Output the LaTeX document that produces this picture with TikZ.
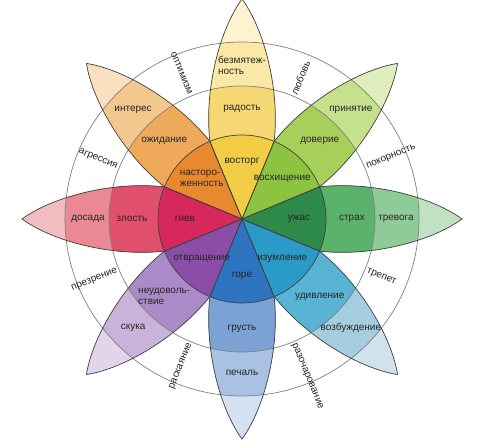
\documentclass[tikz,border=0pt]{standalone}
\usepackage{fontspec}
\setmainfont{Liberation Sans}
\usepackage{xcolor}

% petal colours: A = tip, B = outer band, C = middle band, D = inner sector
\definecolor{yelA}{HTML}{FDF3CF}\definecolor{yelB}{HTML}{F9E8A6}
\definecolor{yelC}{HTML}{F5D872}\definecolor{yelD}{HTML}{F1CC45}
\definecolor{oraA}{HTML}{F9E0C0}\definecolor{oraB}{HTML}{F3C88F}
\definecolor{oraC}{HTML}{EEAA5A}\definecolor{oraD}{HTML}{E8892F}
\definecolor{redA}{HTML}{F3BCC0}\definecolor{redB}{HTML}{EA8893}
\definecolor{redC}{HTML}{E0506D}\definecolor{redD}{HTML}{D6285C}
\definecolor{lgrA}{HTML}{E0EEBD}\definecolor{lgrB}{HTML}{C6E18D}
\definecolor{lgrC}{HTML}{A6D05A}\definecolor{lgrD}{HTML}{8CC43F}
\definecolor{grnA}{HTML}{BFE2C3}\definecolor{grnB}{HTML}{8FCB96}
\definecolor{grnC}{HTML}{5BB26C}\definecolor{grnD}{HTML}{2E8A4A}
\definecolor{tealA}{HTML}{D0E2EC}\definecolor{tealB}{HTML}{A5CDE0}
\definecolor{tealC}{HTML}{58B3D4}\definecolor{tealD}{HTML}{2A9AC8}
\definecolor{bluA}{HTML}{D4E1F1}\definecolor{bluB}{HTML}{A9C1E3}
\definecolor{bluC}{HTML}{7CA1D3}\definecolor{bluD}{HTML}{2F74C0}
\definecolor{purA}{HTML}{E2D5EB}\definecolor{purB}{HTML}{C9B3DB}
\definecolor{purC}{HTML}{AA8BC8}\definecolor{purD}{HTML}{8A4EA8}

\newcommand{\petalpath}{(0,0) -- (22.5:84) .. controls (130,38) and (190,22) .. (220,0)
  .. controls (190,-22) and (130,-38) .. (-22.5:84) -- cycle}

\begin{document}
\begin{tikzpicture}[
    x=1pt, y=1pt,
    petal_line/.style={draw=black!75, line width=0.7pt},
    ring_line/.style={draw=black!50, line width=0.7pt},
    band_label/.style={
      font=\fontsize{10}{11}\selectfont, text=black!85,
      align=left, inner sep=1pt
    },
    outer_label/.style={
      font=\fontsize{10}{11}\selectfont, text=black!85, inner sep=1pt
    }
  ]
  \fill[white] (-242,-224) rectangle (255,219);
  \useasboundingbox (-242,-224) rectangle (255,219);

  % --- Petals: bands clipped to each petal ---
  \foreach \a/\ca/\cb/\cc/\cd in {0/grnA/grnB/grnC/grnD, 45/lgrA/lgrB/lgrC/lgrD,
      90/yelA/yelB/yelC/yelD, 135/oraA/oraB/oraC/oraD, 180/redA/redB/redC/redD,
      225/purA/purB/purC/purD, 270/bluA/bluB/bluC/bluD, 315/tealA/tealB/tealC/tealD}{
    \begin{scope}[rotate=\a]
      \fill[\ca] \petalpath;
      \begin{scope}
        \clip \petalpath;
        \fill[\cb] (0,0) circle[radius=177pt];
        \fill[\cc] (0,0) circle[radius=133pt];
        \fill[\cd] (0,0) circle[radius=84pt];
      \end{scope}
    \end{scope}
  }

  % --- Rings ---
  \draw[ring_line] (0,0) circle[radius=177pt];
  \draw[ring_line] (0,0) circle[radius=133pt];
  \draw[petal_line] (0,0) circle[radius=84pt];

  \foreach \a in {0,45,...,315}
    \draw[petal_line, rotate=\a] \petalpath;

  % --- Labels inside the petals ---
  \foreach \a/\nm/\tin/\tmid/\tout in {
      0/grn/ужас/страх/тревога,
      45/lgr/восхищение/доверие/принятие,
      90/yel/восторг/радость/{безмятеж-\\ность},
      135/ora/{насторо-\\женность}/ожидание/интерес,
      180/red/гнев/злость/досада,
      225/pur/отвращение/{неудоволь-\\ствие}/скука,
      270/blu/горе/грусть/печаль,
      315/teal/изумление/удивление/возбуждение}{
    \node[band_label] (\nm_in) at (\a:57) {\tin};
    \node[band_label] (\nm_mid) at (\a:110) {\tmid};
    \node[band_label] (\nm_out) at (\a:154) {\tout};
  }

  % --- Labels between the petals ---
  \foreach \a/\nm/\txt in {22.5/pok/покорность, 67.5/lub/любовь,
      -22.5/tre/трепет, -67.5/raz/разочарование}
    \node[outer_label, anchor=west, rotate=\a] (\nm) at (\a:134) {\txt};
  \foreach \a/\nm/\txt in {112.5/opt/оптимизм, 157.5/agr/агрессия,
      202.5/pre/презрение, 247.5/ras/раскаяние}
    \node[outer_label, anchor=east, rotate=\a-180] (\nm) at (\a:134) {\txt};
\end{tikzpicture}
\end{document}
